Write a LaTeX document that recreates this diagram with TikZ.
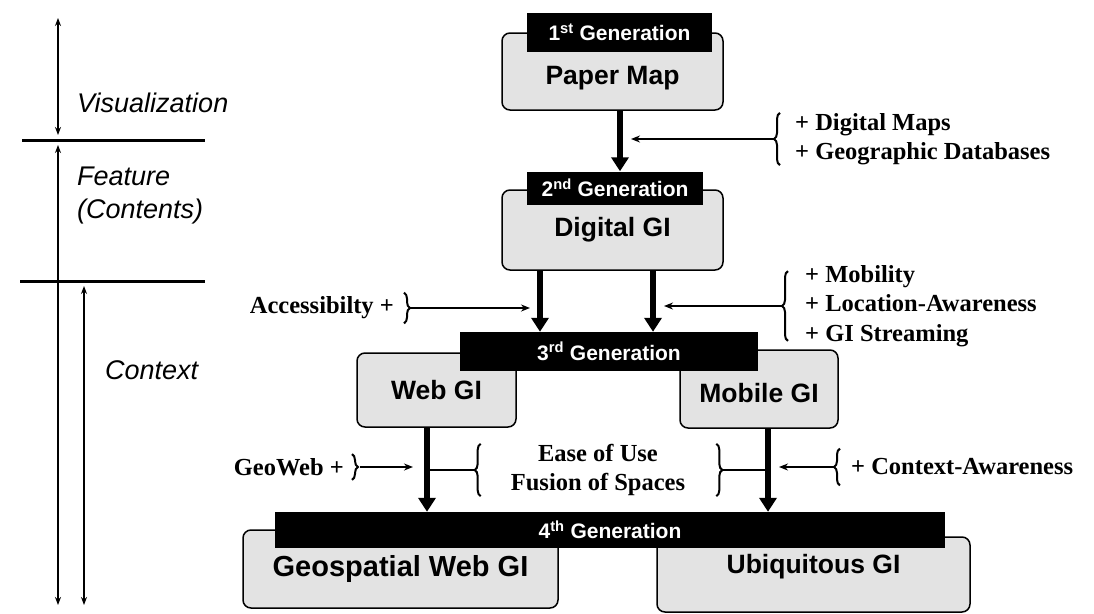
\documentclass[tikz,border=0pt]{standalone}
\usepackage{fontspec}
\setmainfont{Liberation Serif}
\setsansfont{Liberation Sans}
\usetikzlibrary{arrows.meta,decorations.pathreplacing,calc}

\tikzset{
  gibox/.style={draw, line width=1.5pt, rounded corners=8pt, fill=black!11,
    font=\sffamily\bfseries\fontsize{26.5}{30}\selectfont},
  genlabel/.style={fill=black, text=white, inner sep=0pt,
    font=\sffamily\bfseries\fontsize{21}{24}\selectfont},
  addtext/.style={font=\bfseries\fontsize{24.5}{29.5}\selectfont, align=left, inner sep=0pt},
  layertext/.style={font=\sffamily\itshape\fontsize{27}{33}\selectfont, align=left,
    inner sep=0pt, anchor=west},
  genarrow/.style={line width=6pt, -{Triangle[length=14pt,width=17pt]}},
  addarrow/.style={line width=2pt, -{Stealth[length=9pt,width=7pt]}},
  addline/.style={line width=2pt},
  addbrace/.style={decorate, decoration={brace, amplitude=6pt}, line width=2pt},
  layerline/.style={line width=2pt, {Stealth[length=8pt,width=6pt]}-{Stealth[length=8pt,width=6pt]}},
  sepline/.style={line width=3pt}
}

\begin{document}
\begin{tikzpicture}[x=1pt,y=-1pt]
  \useasboundingbox (0,0) rectangle (1094,613);

  % layers on the left
  \node[layertext] (vis) at (77,103) {Visualization};
  \node[layertext] (feat) at (77,196) {Feature\\(Contents)};
  \node[layertext] (ctxt) at (105,370) {Context};

  \coordinate (v1) at (58,18);  \coordinate (v2) at (58,135);
  \coordinate (v3) at (58,145); \coordinate (v4) at (58,605);
  \coordinate (v5) at (84,286); \coordinate (v6) at (84,605);
  \draw[layerline] (v1) -- (v2);
  \draw[layerline] (v3) -- (v4);
  \draw[layerline] (v5) -- (v6);
  \draw[sepline] (22,140) -- (205,140);
  \draw[sepline] (20,281) -- (205,281);

  % generations
  \node[gibox, minimum width=221pt, minimum height=77pt, text height=31pt, text depth=6pt] (paper) at (612.5,71.5) {Paper Map};
  \node[gibox, minimum width=221pt, minimum height=80pt] (digital) at (612.5,230) {Digital GI};
  \node[gibox, minimum width=159pt, minimum height=74pt, text height=25pt, text depth=6pt] (web) at (436.5,390) {Web GI};
  \node[gibox, minimum width=158pt, minimum height=78pt, text height=33pt, text depth=6pt] (mobile) at (759,389) {Mobile GI};
  \node[gibox, minimum width=315pt, minimum height=78pt, font=\sffamily\bfseries\fontsize{29}{32}\selectfont] (geo) at (400.5,569) {Geospatial Web GI};
  \node[gibox, minimum width=313pt, minimum height=75pt, text height=19pt, text depth=22pt] (ubi) at (813.5,574.5) {Ubiquitous GI};

  \node[genlabel, minimum width=185pt, minimum height=39pt] (gen1) at (619.5,32.5) {1\textsuperscript{st} Generation};
  \node[genlabel, minimum width=176pt, minimum height=33pt] (gen2) at (615,188) {2\textsuperscript{nd} Generation};
  \node[genlabel, minimum width=298pt, minimum height=39pt] (gen3) at (609,351.5) {3\textsuperscript{rd} Generation};
  \node[genlabel, minimum width=670pt, minimum height=36pt] (gen4) at (610,530) {4\textsuperscript{th} Generation};

  % main arrows
  \coordinate (a1) at ([xshift=7.5pt]paper.south);
  \coordinate (a2) at ([xshift=-72.5pt]digital.south);
  \coordinate (a3) at ([xshift=40.5pt]digital.south);
  \coordinate (a4) at ([xshift=-9.5pt]web.south);
  \coordinate (a5) at ([xshift=9pt]mobile.south);
  \draw[genarrow] (a1) -- (a1 |- gen2.north);
  \draw[genarrow] (a2) -- (a2 |- gen3.north);
  \draw[genarrow] (a3) -- (a3 |- gen3.north);
  \draw[genarrow] (a4) -- (a4 |- gen4.north);
  \draw[genarrow] (a5) -- (a5 |- gen4.north);

  % additions
  \node[addtext, anchor=west] (dm) at (795,139) {+ Digital Maps\\+ Geographic Databases};
  \draw[addbrace] ([xshift=-15pt]dm.south west) -- ([xshift=-15pt]dm.north west);
  \draw[addarrow] ($(dm.west)+(-21,0)$) -- ($(a1 |- dm.west)+(11,0)$);

  \node[addtext, anchor=west] (mob) at (805,306) {+ Mobility\\+ Location-Awareness\\+ GI Streaming};
  \draw[addbrace] ($(mob.south west)+(-17,-6)$) -- ($(mob.north west)+(-17,6)$);
  \draw[addarrow] ($(mob.west)+(-23,0)$) -- ($(a3 |- mob.west)+(11,0)$);

  \node[addtext, anchor=east] (acc) at (394,308) {Accessibilty +};
  \draw[addbrace] ($(acc.north east)+(10,-4)$) -- ($(acc.south east)+(10,4)$);
  \draw[addarrow] ($(acc.east)+(16,0)$) -- ($(a2 |- acc.east)+(-10,0)$);

  \node[addtext, anchor=east] (gw) at (344,467) {GeoWeb +};
  \draw[addbrace] ($(gw.north east)+(8,-4)$) -- ($(gw.south east)+(8,4)$);
  \draw[addarrow] ($(gw.east)+(16,0)$) -- ($(a4 |- gw.east)+(-14,0)$);

  \node[addtext, align=center] (ease) at (598,470) {Ease of Use\\Fusion of Spaces};
  \draw[addbrace] ($(ease.south west)+(-30,0)$) -- ($(ease.north west)+(-30,0)$);
  \draw[addbrace] ($(ease.north east)+(31,0)$) -- ($(ease.south east)+(31,0)$);
  \draw[addline] ($(ease.west)+(-36,0)$) -- (a4 |- ease.west);
  \draw[addline] ($(ease.east)+(37,0)$) -- (a5 |- ease.east);

  \node[addtext, anchor=west] (ctx) at (851,467) {+ Context-Awareness};
  \draw[addbrace] ($(ctx.south west)+(-11,10)$) -- ($(ctx.north west)+(-11,-10)$);
  \draw[addarrow] ($(ctx.west)+(-17,0)$) -- ($(a5 |- ctx.west)+(11,0)$);
\end{tikzpicture}
\end{document}
